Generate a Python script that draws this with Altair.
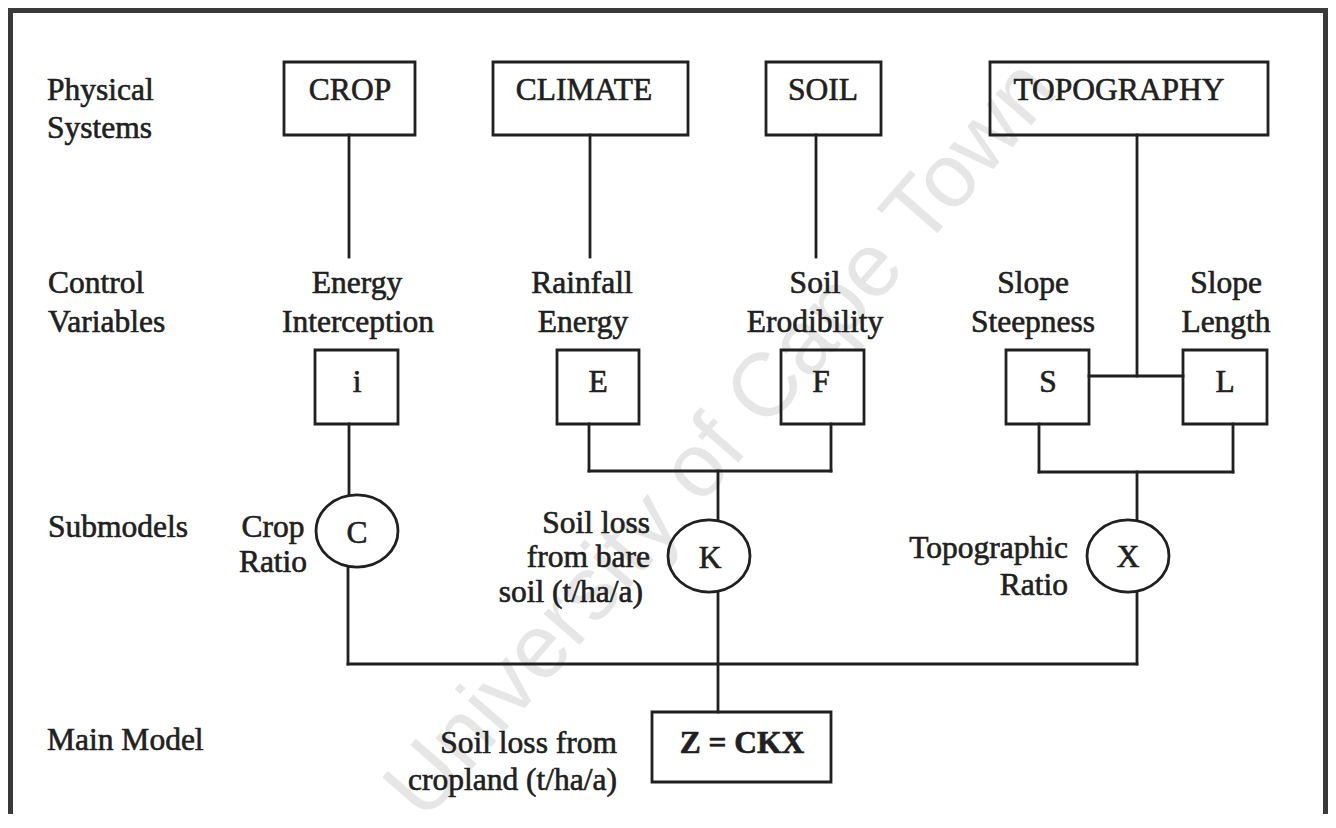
import altair as alt
import pandas as pd

# ---------------- content ----------------
level_labels = ["Physical", "Systems", "Control", "Variables", "Submodels", "Main Model"]
level_x = [47, 47, 48, 48, 48, 47]
level_y = [100, 138, 293, 332, 537, 750]

system_labels = ["CROP", "CLIMATE", "SOIL", "TOPOGRAPHY"]
system_box_x1 = [284, 493, 766, 990]
system_box_x2 = [415, 688, 881, 1268]
system_text_x = [350, 584, 823, 1119]
system_box_y1, system_box_y2, system_text_y = 62, 135, 100

variable_names = ["Energy", "Interception", "Rainfall", "Energy", "Soil",
                  "Erodibility", "Slope", "Steepness", "Slope", "Length"]
variable_name_x = [357, 358, 582, 583, 815, 815, 1033, 1033, 1226, 1226]
variable_name_y = [293, 332] * 5

variable_symbols = ["i", "E", "F", "S", "L"]
var_box_x1 = [315, 557, 781, 1006, 1183]
var_box_x2 = [398, 639, 864, 1089, 1267]
var_text_x = [357, 598, 821, 1048, 1225]
var_box_y1, var_box_y2, var_text_y = 350, 424, 392

submodel_symbols = ["C", "K", "X"]
submodel_x = [357, 709, 1128]
submodel_y = [531, 556, 556]
submodel_text_x = [357, 710, 1128]
submodel_text_y = [543, 568, 567]

note_center = ["Crop", "Ratio"]
note_center_x = [273, 273]
note_center_y = [537, 572]

note_right = ["Soil loss", "from bare", "soil (t/ha/a)", "Topographic", "Ratio",
              "Soil loss from", "cropland (t/ha/a)"]
note_right_x = [650, 650, 643, 1068, 1068, 617, 617]
note_right_y = [533, 567, 602, 558, 595, 753, 790]

main_model = "Z = CKX"
main_box = (652, 831, 712, 782)
main_text_xy = (742, 753)

# connector segments: x1, y1, x2, y2
seg_x1 = [349, 590, 816, 1137, 1089, 349, 589, 831, 589, 718, 1039, 1233, 1039, 1137, 348, 348, 1137, 718]
seg_y1 = [135, 135, 135, 135, 376, 424, 424, 424, 471, 471, 424, 424, 472, 472, 567, 664, 593, 592]
seg_x2 = [349, 590, 816, 1137, 1183, 349, 589, 831, 831, 718, 1039, 1233, 1233, 1137, 348, 1137, 1137, 718]
seg_y2 = [257, 257, 257, 376, 376, 495, 471, 471, 471, 520, 472, 472, 472, 520, 664, 664, 664, 712]

# frame lines (left, top, right)
frame_x1 = [10.5, 8, 1325.5]
frame_y1 = [8, 10.5, 8]
frame_x2 = [10.5, 1328, 1325.5]
frame_y2 = [814, 10.5, 814]

watermark = "University of Cape Town"
watermark_xy = (722, 440)

# ---------------- styling ----------------
INK = "#202020"
SERIF = "Liberation Serif"
FS = 31.5
LW = 2.8

XS = alt.Scale(domain=[8, 1328], nice=False, zero=False)
YS = alt.Scale(domain=[8, 814], nice=False, zero=False, reverse=True)


def xy(df, xf="x", yf="y"):
    return dict(x=alt.X(f"{xf}:Q", scale=XS, axis=None),
                y=alt.Y(f"{yf}:Q", scale=YS, axis=None))


def text_layer(df, align, weight="normal", size=FS, font=SERIF, color=INK):
    return alt.Chart(df).mark_text(
        align=align, baseline="alphabetic", font=font, fontSize=size,
        fontWeight=weight, color=color, stroke=color, strokeWidth=0.6
    ).encode(text="t:N", **xy(df))


# watermark
wm_df = pd.DataFrame({"t": [watermark], "x": [watermark_xy[0]], "y": [watermark_xy[1]]})
wm = alt.Chart(wm_df).mark_text(
    align="center", baseline="middle", font="Liberation Sans", fontSize=90,
    angle=311, color="#e6e6e6"
).encode(text="t:N", **xy(wm_df))

# frame
frame_df = pd.DataFrame({"x": frame_x1, "y": frame_y1, "x2": frame_x2, "y2": frame_y2})
frame = alt.Chart(frame_df).mark_rule(color="#3a3a3a", strokeWidth=5).encode(
    x2="x2:Q", y2="y2:Q", **xy(frame_df))

# connectors
seg_df = pd.DataFrame({"x": seg_x1, "y": seg_y1, "x2": seg_x2, "y2": seg_y2})
segs = alt.Chart(seg_df).mark_rule(color=INK, strokeWidth=LW, strokeCap="square").encode(
    x2="x2:Q", y2="y2:Q", **xy(seg_df))

# boxes (outline only; the watermark shows through like on the scanned page)
box_df = pd.DataFrame({
    "x": system_box_x1 + var_box_x1 + [main_box[0]],
    "x2": system_box_x2 + var_box_x2 + [main_box[1]],
    "y": [system_box_y1] * 4 + [var_box_y1] * 5 + [main_box[2]],
    "y2": [system_box_y2] * 4 + [var_box_y2] * 5 + [main_box[3]],
})
boxes = alt.Chart(box_df).mark_rect(fill="white", fillOpacity=0, stroke=INK, strokeWidth=LW).encode(
    x2="x2:Q", y2="y2:Q", **xy(box_df))

# ellipses for submodels (custom path, width = sqrt(size))
ELLIPSE = "M-1,0A1,0.88,0,1,1,1,0A1,0.88,0,1,1,-1,0Z"
ell_df = pd.DataFrame({"x": submodel_x, "y": submodel_y})
ells = alt.Chart(ell_df).mark_point(
    shape=ELLIPSE, filled=False, stroke=INK, strokeWidth=LW,
    size=82 * 82, opacity=1
).encode(**xy(ell_df))

# texts
left_df = pd.DataFrame({"t": level_labels, "x": level_x, "y": level_y})
center_df = pd.DataFrame({
    "t": system_labels + variable_names + variable_symbols + submodel_symbols + note_center,
    "x": system_text_x + variable_name_x + var_text_x + submodel_text_x + note_center_x,
    "y": [system_text_y] * 4 + variable_name_y + [var_text_y] * 5 + submodel_text_y + note_center_y,
})
right_df = pd.DataFrame({"t": note_right, "x": note_right_x, "y": note_right_y})
bold_df = pd.DataFrame({"t": [main_model], "x": [main_text_xy[0]], "y": [main_text_xy[1]]})

chart = alt.layer(
    wm, frame, segs, boxes, ells,
    text_layer(left_df, "left"),
    text_layer(center_df, "center"),
    text_layer(right_df, "right"),
    text_layer(bold_df, "center", weight="bold"),
).properties(
    width=1320, height=806, padding=0,
    autosize=alt.AutoSizeParams(type="none"),
    background="white",
).configure_view(stroke=None)

chart.save("out.html", embed_options={"renderer": "svg", "actions": False})
